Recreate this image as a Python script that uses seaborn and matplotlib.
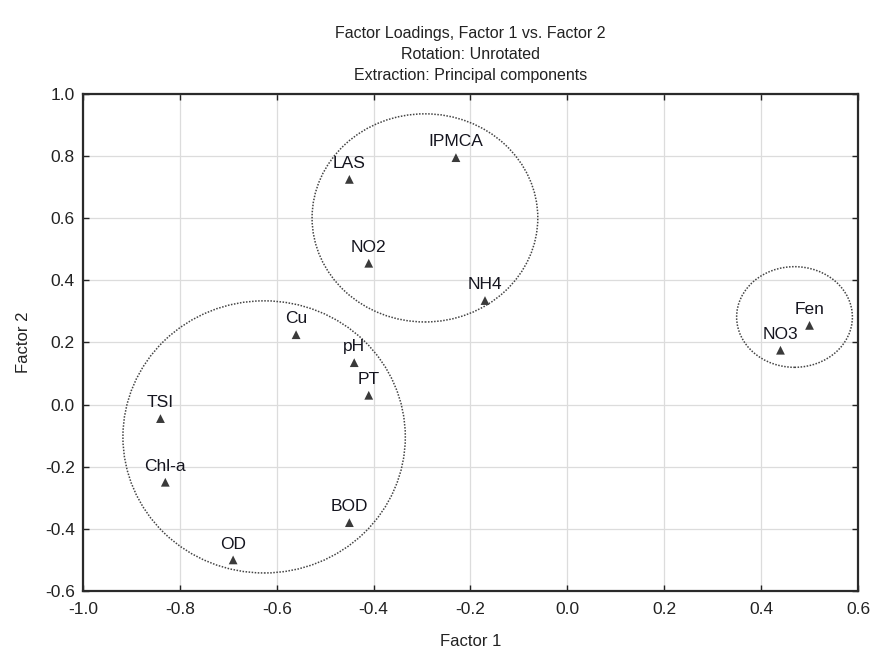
import numpy as np
import pandas as pd
import seaborn as sns
import matplotlib
matplotlib.use("Agg")
import matplotlib.pyplot as plt
from matplotlib.patches import Ellipse

# factor loadings
variables = ["TSI", "Chl-a", "OD", "BOD", "Cu", "pH", "PT",
             "LAS", "IPMCA", "NO2", "NH4", "Fen", "NO3"]
factor1 = [-0.84, -0.83, -0.69, -0.45, -0.56, -0.44, -0.41,
           -0.45, -0.23, -0.41, -0.17, 0.50, 0.44]
factor2 = [-0.045, -0.25, -0.50, -0.38, 0.225, 0.135, 0.03,
           0.725, 0.795, 0.455, 0.335, 0.255, 0.175]

# groups circled on the chart: centre x, centre y, width, height
group_cx = [-0.626, -0.294, 0.469]
group_cy = [-0.104, 0.601, 0.282]
group_w = [0.583, 0.466, 0.239]
group_h = [0.876, 0.670, 0.324]

xticks = [-1.0, -0.8, -0.6, -0.4, -0.2, 0.0, 0.2, 0.4, 0.6]
yticks = [-0.6, -0.4, -0.2, 0.0, 0.2, 0.4, 0.6, 0.8, 1.0]

df = pd.DataFrame({"var": variables, "f1": factor1, "f2": factor2})

sns.set_style("white")
plt.rcParams['font.family'] = ['Liberation Sans', 'DejaVu Sans']

fig = plt.figure(figsize=(8.77, 6.48), dpi=100)
ax = fig.add_axes([0.0946, 0.088, 0.8837, 0.767])

sns.scatterplot(data=df, x="f1", y="f2", marker="^", color="#3a3a3a",
                s=40, edgecolor="none", ax=ax, zorder=3)

for name, x, y in zip(df["var"], df["f1"], df["f2"]):
    ax.annotate(name, (x, y), xytext=(0, 6), textcoords="offset points",
                ha="center", va="bottom", fontsize=12.5, color="#15151f",
                zorder=4)

for cx, cy, w, h in zip(group_cx, group_cy, group_w, group_h):
    ax.add_patch(Ellipse((cx, cy), w, h, fill=False, edgecolor="#444444",
                         linestyle=(0, (1, 1)), linewidth=1.1, zorder=2))

ax.set_xlim(-1.0, 0.6)
ax.set_ylim(-0.6, 1.0)
ax.set_xticks(xticks)
ax.set_yticks(yticks)
ax.set_xticklabels([f"{t:.1f}" for t in xticks])
ax.set_yticklabels([f"{t:.1f}" for t in yticks])
ax.grid(True, color="#dcdcdc", linewidth=0.9)
ax.set_axisbelow(True)
ax.tick_params(direction="in", length=4, width=1, labelsize=12.5, colors="#222222",
               top=True, right=True, bottom=True, left=True)
ax.tick_params(axis="x", pad=8)
ax.tick_params(axis="y", pad=6)
for sp in ax.spines.values():
    sp.set_color("#2a2a2a")
    sp.set_linewidth(1.6)

ax.set_xlabel("Factor 1", fontsize=12, labelpad=12, color="#222222")
ax.set_ylabel("Factor 2", fontsize=12, labelpad=10, color="#222222")
ax.set_title("Factor Loadings, Factor 1 vs. Factor 2\nRotation: Unrotated\nExtraction: Principal components",
             fontsize=11.5, linespacing=1.5, color="#222222", pad=10)

plt.savefig("out.png", dpi=100)
